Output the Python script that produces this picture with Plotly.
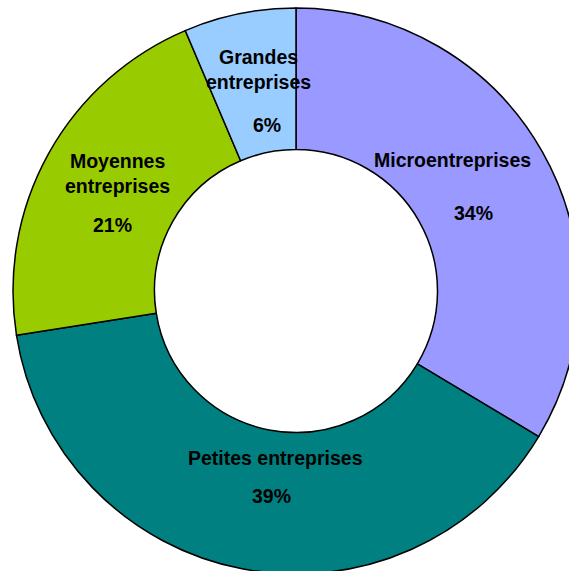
import plotly.graph_objects as go

categories = ["Microentreprises", "Petites entreprises", "Moyennes entreprises", "Grandes entreprises"]
label_text = ["Microentreprises", "Petites entreprises", "Moyennes<br>entreprises", "Grandes<br>entreprises"]
values = [33.6, 38.9, 21.1, 6.4]
pct_labels = ["34%", "39%", "21%", "6%"]
colors = ["#9999FF", "#008080", "#99CC00", "#99CCFF"]

W, H = 592, 574
MT, MB = 8, 0
PH = H - MT - MB

# label centres (pixels) for name and percentage
name_pos = [(452, 160), (275.5, 458), (117, 174), (258, 69)]
pct_pos = [(473.5, 213), (271.5, 496), (112, 225), (266.5, 125)]

def px2paper(x, y):
    return x / W, 1 - (y - MT) / PH

fig = go.Figure(go.Pie(
    labels=categories,
    values=values,
    hole=0.5,
    sort=False,
    direction="clockwise",
    rotation=0,
    marker=dict(colors=colors, line=dict(color="black", width=1.5)),
    textinfo="none",
    hoverinfo="label+percent",
    showlegend=False,
    domain=dict(x=[0, 1], y=[0, 1]),
))

font = dict(family="Liberation Sans, Arial, sans-serif", size=19.5, color="black", weight="bold")
annotations = []
for lab, pct, npos, ppos in zip(label_text, pct_labels, name_pos, pct_pos):
    x, y = px2paper(*npos)
    annotations.append(dict(x=x, y=y, xref="paper", yref="paper", text=lab, showarrow=False,
                            font=font, xanchor="center", yanchor="middle", align="center"))
    x, y = px2paper(*ppos)
    annotations.append(dict(x=x, y=y, xref="paper", yref="paper", text=pct,
                            showarrow=False, font=font, xanchor="center", yanchor="middle"))

fig.update_layout(
    width=W, height=H,
    margin=dict(l=0, r=0, t=MT, b=MB, pad=0),
    paper_bgcolor="white", plot_bgcolor="white",
    annotations=annotations,
)

post = ("document.body.style.margin='0';document.body.style.overflow='hidden';"
        "document.documentElement.style.overflow='hidden';")
fig.write_html("out.html", post_script=post, config={"displayModeBar": False})
